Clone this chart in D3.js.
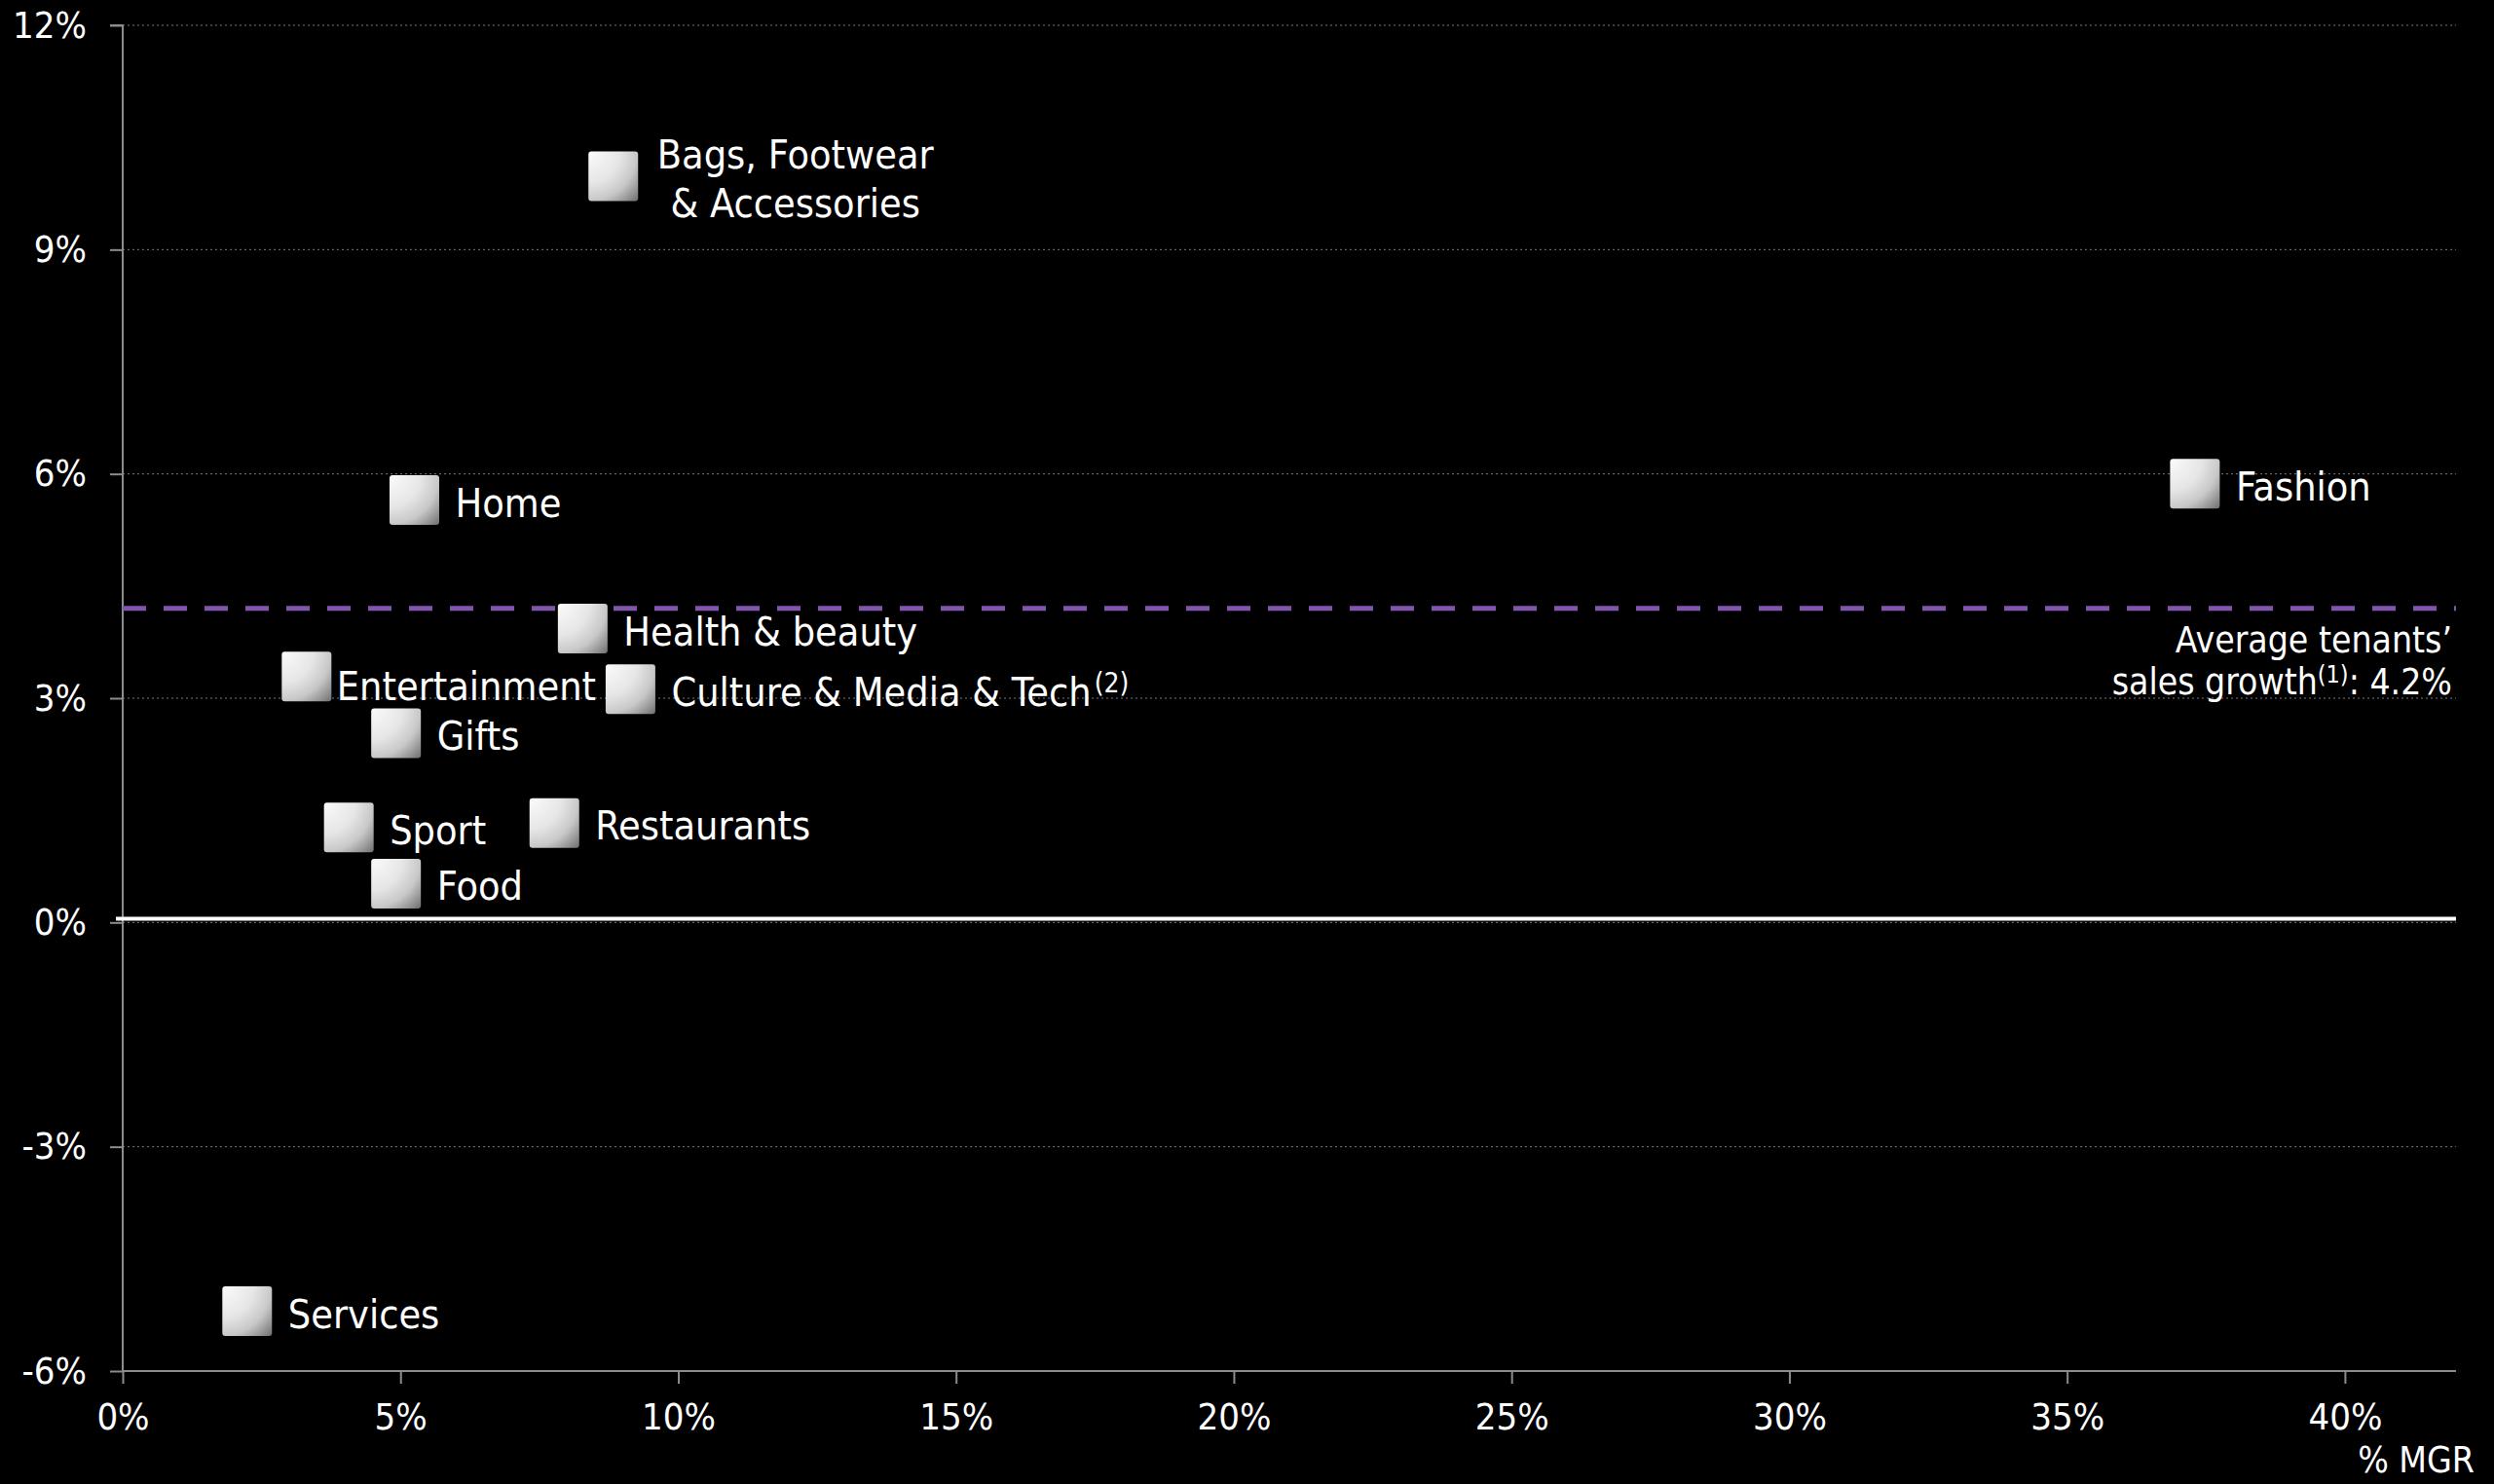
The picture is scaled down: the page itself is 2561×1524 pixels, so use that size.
<!DOCTYPE html>
<html>
<head>
<meta charset="utf-8">
<script src="https://cdn.jsdelivr.net/npm/d3@7"></script>
<style>
  html, body { margin: 0; padding: 0; background: #000; }
  svg { display: block; }
  text { font-family: "DejaVu Sans Condensed", "DejaVu Sans", sans-serif; fill: #fff; }
</style>
</head>
<body>
<svg id="chart" width="2561" height="1524"></svg>
<script>
// Tenant categories: share of MGR (x) against tenants' sales growth (y), both in %
const categories = [
  "Bags, Footwear & Accessories", "Home", "Fashion", "Health & beauty", "Entertainment",
  "Culture & Media & Tech", "Gifts", "Sport", "Restaurants", "Food", "Services"
];
const mgrShare    = [8.83, 5.25, 37.3, 8.28, 3.31, 9.14, 4.92, 4.07, 7.77, 4.92, 2.24];
const salesGrowth = [9.98, 5.65, 5.87, 3.93, 3.29, 3.12, 2.53, 1.27, 1.33, 0.52, -5.20];
const averageGrowth = 4.2;
const zeroLineValue = 0.05;

const xTicks = [0, 5, 10, 15, 20, 25, 30, 35, 40];
const yTicks = [-6, -3, 0, 3, 6, 9, 12];
const xDomain = [0, 42];
const yDomain = [-6, 12];

// Label text: lines and optional superscript note
const labelLines = {
  "Bags, Footwear & Accessories": ["Bags, Footwear", "& Accessories"],
  "Culture & Media & Tech": ["Culture & Media & Tech"]
};
const labelNotes = { "Culture & Media & Tech": "(2)" };

// Label placement relative to the marker centre
const labelPlacement = {
  "Bags, Footwear & Accessories": { dx: 187, dy: -8, anchor: "middle" },
  "Entertainment": { dx: 31, dy: 24, anchor: "start" }
};
const defaultPlacement = { dx: 42, dy: 17, anchor: "start" };

const points = categories.map((c, i) => ({ name: c, x: mgrShare[i], y: salesGrowth[i] }));

const svg = d3.select("#chart");
const W = 2561, H = 1524;
svg.append("rect").attr("width", W).attr("height", H).attr("fill", "#000");

const x = d3.scaleLinear().domain(xDomain).range([126, 2522]);
const y = d3.scaleLinear().domain(yDomain).range([1408, 26]);

const defs = svg.append("defs");
const grad = defs.append("radialGradient")
  .attr("id", "markerFill")
  .attr("cx", "0%").attr("cy", "0%").attr("r", "141%")
  .attr("fx", "0%").attr("fy", "0%");
grad.append("stop").attr("offset", "0%").attr("stop-color", "#fbfbfb");
grad.append("stop").attr("offset", "45%").attr("stop-color", "#e6e6e6");
grad.append("stop").attr("offset", "70%").attr("stop-color", "#c8c8c8");
grad.append("stop").attr("offset", "100%").attr("stop-color", "#6e6e6e");

// Dotted gridlines
svg.append("g")
  .selectAll("line")
  .data(yTicks.filter(t => t !== yDomain[0]))
  .join("line")
  .attr("x1", x(xDomain[0])).attr("x2", x(xDomain[1]))
  .attr("y1", d => y(d)).attr("y2", d => y(d))
  .attr("stroke", "#7a7a7a")
  .attr("stroke-width", 1)
  .attr("stroke-dasharray", "2,3");

// Axes
const axisColor = "#8c8c8c";
const yAxis = svg.append("g")
  .attr("transform", `translate(${x(xDomain[0])},0)`)
  .call(d3.axisLeft(y).tickValues(yTicks).tickSize(13).tickPadding(24).tickFormat(d => d + "%"));
const xAxis = svg.append("g")
  .attr("transform", `translate(0,${y(yDomain[0])})`)
  .call(d3.axisBottom(x).tickValues(xTicks).tickSize(13).tickPadding(20).tickFormat(d => d + "%"));
[yAxis, xAxis].forEach(g => {
  g.select(".domain").attr("stroke", axisColor).attr("stroke-width", 2);
  g.selectAll(".tick line").attr("stroke", axisColor).attr("stroke-width", 2);
  g.selectAll(".tick text").attr("fill", "#fff").style("font-size", "38px")
    .style("font-family", "\"DejaVu Sans Condensed\", \"DejaVu Sans\", sans-serif");
});
yAxis.select(".domain").attr("d", `M-13,${y(yDomain[1])}H0V${y(yDomain[0])}`);
xAxis.select(".domain").attr("d", `M${x(xDomain[0])},0H${x(xDomain[1])}`);

svg.append("text")
  .attr("x", 2541).attr("y", 1512)
  .attr("text-anchor", "end")
  .style("font-size", "37px")
  .text("% MGR");

// Zero line
svg.append("line")
  .attr("x1", x(xDomain[0]) - 7).attr("x2", x(xDomain[1]))
  .attr("y1", y(zeroLineValue)).attr("y2", y(zeroLineValue))
  .attr("stroke", "#fff").attr("stroke-width", 4);

// Average sales growth line
svg.append("line")
  .attr("x1", x(xDomain[0])).attr("x2", x(xDomain[1]))
  .attr("y1", y(averageGrowth)).attr("y2", y(averageGrowth))
  .attr("stroke", "#8256ae").attr("stroke-width", 5)
  .attr("stroke-dasharray", "24,18");

const avgLabel = svg.append("text")
  .attr("text-anchor", "end")
  .style("font-size", "37px");
avgLabel.append("tspan").attr("x", 2518).attr("y", y(averageGrowth) + 45).text("Average tenants\u2019");
const avgLine2 = avgLabel.append("tspan").attr("x", 2518).attr("y", y(averageGrowth) + 88);
avgLine2.append("tspan").text("sales growth");
avgLine2.append("tspan").attr("dy", -12).style("font-size", "25px").text("(1)");
avgLine2.append("tspan").attr("dy", 12).text(": " + averageGrowth.toFixed(1) + "%");

// Markers
const size = 51;
svg.append("g")
  .selectAll("rect")
  .data(points)
  .join("rect")
  .attr("x", d => x(d.x) - size / 2)
  .attr("y", d => y(d.y) - size / 2)
  .attr("width", size).attr("height", size)
  .attr("rx", 3)
  .attr("fill", "url(#markerFill)");

// Category labels
const labels = svg.append("g")
  .selectAll("text")
  .data(points)
  .join("text")
  .style("font-size", "41px")
  .attr("text-anchor", d => (labelPlacement[d.name] || defaultPlacement).anchor);
labels.each(function (d) {
  const p = labelPlacement[d.name] || defaultPlacement;
  const t = d3.select(this);
  const lines = labelLines[d.name] || [d.name];
  lines.forEach((ln, i) => {
    t.append("tspan")
      .attr("x", x(d.x) + p.dx)
      .attr("y", y(d.y) + p.dy + i * 50)
      .text(ln);
  });
  if (labelNotes[d.name]) {
    t.append("tspan").attr("dx", 3).attr("dy", -14).style("font-size", "28px").text(labelNotes[d.name]);
  }
});
</script>
</body>
</html>
